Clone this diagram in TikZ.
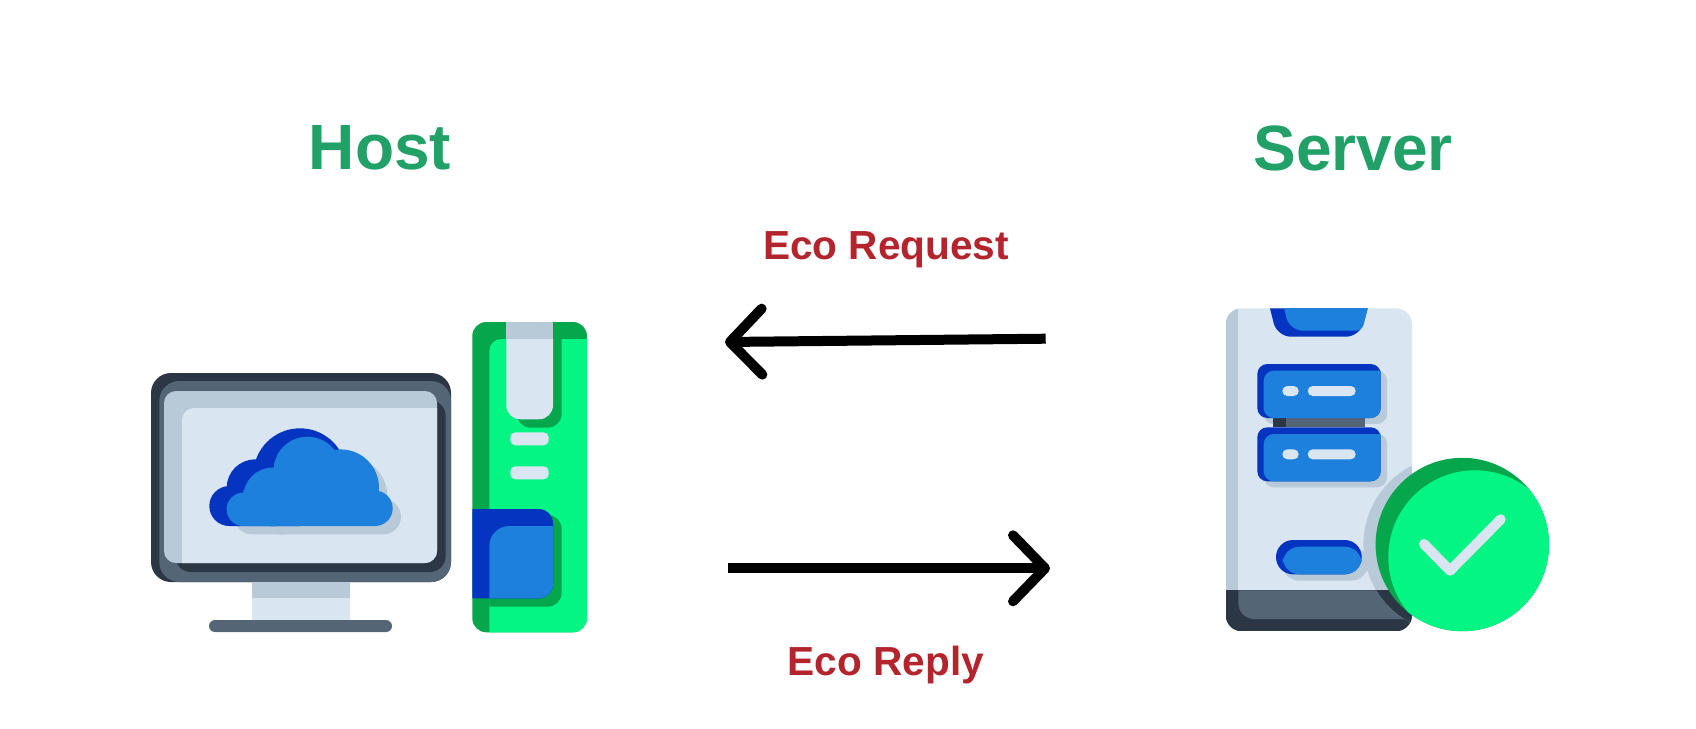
\documentclass[tikz,border=0pt]{standalone}
\usepackage{fontspec}
\setmainfont{Liberation Sans}
\usepackage{xcolor}
\usetikzlibrary{arrows.meta}
\definecolor{slatedark}{HTML}{2B3745}
\definecolor{slatemid}{HTML}{546675}
\definecolor{paleshade}{HTML}{B8C9D8}
\definecolor{palelight}{HTML}{D9E6F2}
\definecolor{bluedark}{HTML}{0534C1}
\definecolor{bluelight}{HTML}{1C80DC}
\definecolor{greendark}{HTML}{05A64C}
\definecolor{greenbright}{HTML}{05F584}
\definecolor{titlegreen}{HTML}{21A067}
\definecolor{labelred}{HTML}{B3242C}
\tikzset{
	titletext/.style={text=titlegreen,font=\bfseries\fontsize{32}{38}\selectfont},
	labeltext/.style={text=labelred,font=\bfseries\fontsize{20.3}{24}\selectfont},
	flowarrow/.style={line width=5pt,-{Straight Barb[length=16pt,width=33pt,line width=5pt,round]}},
	pill/.style={rounded corners=2.5pt}
}
\newcommand{\cloudlumps}{(243.3,509.3) circle (16.7) (272.7,497) circle (29.4) (307.5,470.7) circle (34)
	(340.7,487.7) circle (38.3) (375,508.3) circle (17.7) (375,490) rectangle (243.3,526)}
\begin{document}
\begin{tikzpicture}[x=0.5pt,y=-0.5pt]
	\useasboundingbox (0,0) rectangle (1696,728);
	\node[titletext] (host) at (380,148) {Host};
	\node[titletext] (server) at (1353,148) {Server};
	\node[labeltext] (request) at (886,250) {Eco Request};
	\node[labeltext] (reply) at (886,665) {Eco Reply};
	\coordinate (requestfrom) at (1045.7,338.7);
	\coordinate (requestto) at (725,342);
	\coordinate (replyfrom) at (728.3,568.3);
	\coordinate (replyto) at (1050,568.3);
	\draw[flowarrow] (requestfrom) -- (requestto);
	\draw[flowarrow] (replyfrom) -- (replyto);
	% monitor
	\fill[slatedark,rounded corners=10pt] (151,373) rectangle (451,582);
	\fill[slatemid,rounded corners=10pt] (159.3,381) rectangle (451,582);
	\fill[slatedark,rounded corners=8pt] (175,400) rectangle (445.7,572);
	\fill[paleshade,rounded corners=6pt] (164,391) rectangle (437,563);
	\fill[palelight] (182,563) [rounded corners=6pt] -- (182,408) [sharp corners] -- (437,408)
		[rounded corners=6pt] -- (437,563) [sharp corners] -- cycle;
	\fill[paleshade] (252,582) rectangle (350,598);
	\fill[palelight] (252,598) rectangle (350,620);
	\fill[slatemid,rounded corners=3pt] (209,620) rectangle (392,632);
	% cloud
	\fill[paleshade,shift={(8.3,8.3)}] \cloudlumps;
	\fill[bluedark] (229.3,506) circle (20) (255,487.7) circle (28.3) (300,475) circle (46.7)
		(300,500) rectangle (229.3,526);
	\fill[bluelight] \cloudlumps;
	% tower
	\fill[greendark,rounded corners=7pt] (472.3,322) rectangle (587,632.3);
	\fill[greenbright] (489.3,632.3) [rounded corners=6pt] -- (489.3,339) [sharp corners] -- (587,339)
		[rounded corners=7pt] -- (587,632.3) [sharp corners] -- cycle;
	\fill[greendark] (516.7,339) -- (561.7,339) [rounded corners=7pt] -- (561.7,427.7) -- (516.7,427.7) [sharp corners] -- cycle;
	\fill[palelight] (506.3,339) [rounded corners=7pt] -- (506.3,419.3) -- (553,419.3) [sharp corners] -- (553,339) -- cycle;
	\fill[paleshade] (506.3,322) rectangle (553,339);
	\foreach \barY in {432.3,466.3}
		{\fill[palelight,pill] (510.3,\barY) rectangle (548.7,\barY+13);}
	\fill[greendark] (489.3,606.7) -- (489.3,515) [rounded corners=7pt] -- (561.7,515) -- (561.7,606.7) [sharp corners] -- cycle;
	\fill[bluedark] (472.3,598.3) -- (472.3,509) [rounded corners=7pt] -- (553,509) -- (553,598.3) [sharp corners] -- cycle;
	\fill[bluelight] (489.3,598.3) [rounded corners=10pt] -- (489.3,526) [sharp corners] -- (553,526)
		[rounded corners=7pt] -- (553,598.3) [sharp corners] -- cycle;
	% server
	\begin{scope}
		\clip[rounded corners=8pt] (1225.7,308.3) rectangle (1412,631.3);
		\fill[palelight] (1225.7,308.3) rectangle (1412,590.3);
		\fill[paleshade] (1225.7,308.3) rectangle (1238.3,590.3);
		\fill[slatedark] (1225.7,590.3) rectangle (1412,631.3);
		\fill[slatemid] (1238.3,590.3) [rounded corners=8pt] -- (1238.3,619) [sharp corners] -- (1412,619) -- (1412,590.3) -- cycle;
		\fill[paleshade] (1451.7,544.5) circle (88.3);
		\begin{scope}
			\clip (1225.7,590.3) rectangle (1412,631.3);
			\fill[slatedark] (1451.7,544.5) circle (88.3);
		\end{scope}
	\end{scope}
	\fill[bluedark] (1270,308.3) -- (1367.7,308.3) [rounded corners=7pt] -- (1360,336.7) -- (1277,336.7) [sharp corners] -- cycle;
	\fill[bluelight] (1284.3,308.3) -- (1367.7,308.3) [rounded corners=3pt] -- (1362,330.7) [rounded corners=7pt] -- (1289,330.7) [sharp corners] -- cycle;
	\foreach \boxY in {364,427.3}
		{\fill[paleshade,rounded corners=5pt] (1263.7,\boxY+6.4) rectangle (1387,\boxY+60);}
	\fill[slatedark] (1273.3,418) rectangle (1286,427.3);
	\fill[slatemid] (1286,418) rectangle (1365,427.3);
	\foreach \boxY in {364,427.3}
		{\fill[bluedark,rounded corners=5pt] (1257.3,\boxY) rectangle (1380.7,\boxY+54);
		\fill[bluelight] (1263.7,\boxY+54) [rounded corners=5pt] -- (1263.7,\boxY+6.7) [sharp corners] -- (1380.7,\boxY+6.7)
			[rounded corners=5pt] -- (1380.7,\boxY+54) -- (1263.7,\boxY+54) [sharp corners] -- cycle;
		\fill[palelight,pill] (1282.3,\boxY+22) rectangle (1298.7,\boxY+32);
		\fill[palelight,pill] (1307.7,\boxY+22) rectangle (1355.7,\boxY+32);}
	\fill[paleshade,rounded corners=8.5pt] (1282.4,546.4) rectangle (1368.1,580.7);
	\fill[bluedark,rounded corners=8.5pt] (1276,540) rectangle (1361.7,574.3);
	\fill[bluelight,rounded corners=8.5pt] (1282.7,546.7) rectangle (1361.7,574.3);
	% badge
	\fill[greendark] (1462.3,544.5) circle (86.7);
	\begin{scope}
		\clip (1462.3,544.5) circle (86.7);
		\fill[greenbright] (1475,557) circle (86.7);
	\end{scope}
	\draw[palelight,line width=5pt,line cap=round,line join=round] (1424,544) -- (1450,570.7) -- (1500.7,519.3);
\end{tikzpicture}
\end{document}
